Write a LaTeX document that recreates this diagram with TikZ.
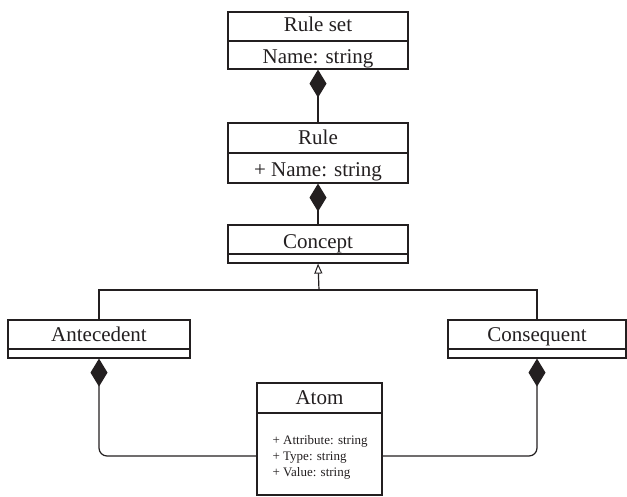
\documentclass[tikz,border=0pt]{standalone}
\usepackage{fontspec}
\setmainfont{Liberation Serif}
\usetikzlibrary{arrows.meta}
\definecolor{ink}{HTML}{231F20}
\begin{document}
\begin{tikzpicture}[x=1pt,y=-1pt,line width=1.2pt,draw=ink,text=ink,
  cls/.style={draw,rectangle,inner sep=0pt},
  big/.style={font=\fontsize{21}{24}\selectfont,inner sep=0pt,anchor=base},
  small/.style={font=\fontsize{13}{16}\selectfont,inner sep=0pt,align=left,anchor=west},
  comp/.style={-{Diamond[length=28pt,width=17pt]}},
  inh/.style={-{Triangle[open,length=10pt,width=8pt,line width=1pt]}}]
\useasboundingbox (0,0) rectangle (627,496);
% Rule set
\node[cls,minimum width=180pt,minimum height=57pt] (rs) at (318,40.5) {};
\draw (228,41) -- (408,41);
\node[big] (rst) at (318,31) {Rule set};
\node[big] (rsa) at (318,63) {Name: string};
% Rule
\node[cls,minimum width=180pt,minimum height=60pt] (ru) at (318,153) {};
\draw (228,153) -- (408,153);
\node[big] (rut) at (318,144) {Rule};
\node[big] (rua) at (318,176) {+ Name: string};
% Concept
\node[cls,minimum width=180pt,minimum height=38pt] (co) at (318,244) {};
\draw (228,254) -- (408,254);
\node[big] (cot) at (318,248) {Concept};
% Antecedent
\node[cls,minimum width=182pt,minimum height=38pt] (an) at (99,339) {};
\draw (8,349) -- (190,349);
\node[big] (ant) at (99,341) {Antecedent};
% Consequent
\node[cls,minimum width=178pt,minimum height=38pt] (cs) at (537,339) {};
\draw (448,349) -- (626,349);
\node[big] (cst) at (537,341) {Consequent};
% Atom
\node[cls,minimum width=125pt,minimum height=112pt] (at) at (319.5,439) {};
\draw (257,413) -- (382,413);
\node[big] (att) at (319.5,404) {Atom};
\node[small] (ata) at (272,457) {+ Attribute: string\\+ Type: string\\+ Value: string};
% connectors
\draw[comp] (ru.north) -- (rs.south);
\draw[comp] (co.north) -- (ru.south);
\coordinate (j) at (319,290);
\draw (an.north) |- (j) -| (cs.north);
\draw[inh] (j) -- (co.south);
\coordinate (lv) at (0,456);
\draw[comp,rounded corners=8pt] (at.west |- lv) -| (an.south);
\draw[comp,rounded corners=8pt] (at.east |- lv) -| (cs.south);
\end{tikzpicture}
\end{document}
